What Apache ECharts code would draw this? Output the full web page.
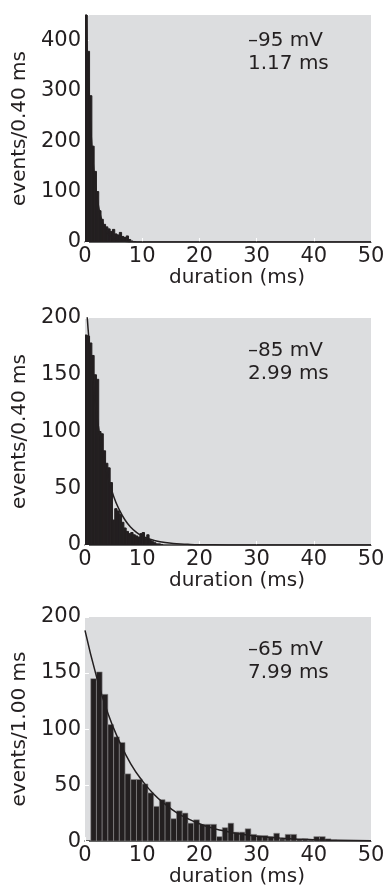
<!DOCTYPE html>
<html>
<head>
<meta charset="utf-8">
<script src="https://cdn.jsdelivr.net/npm/echarts@6/dist/echarts.min.js"></script>
<style>
  html, body { margin: 0; padding: 0; background: #fff; }
  #chart { width: 389px; height: 888px; }
</style>
</head>
<body>
<div id="chart"></div>
<script>
// -95 mV: counts per 0.40 ms bin, first bin starts at 0 ms
const counts95 = [450, 378, 290, 190, 140, 100, 62, 45, 35, 30, 26, 21, 25, 16, 14, 19, 11, 9, 12, 5, 2, 1];
// -85 mV: counts per 0.40 ms bin, first bin starts at 0 ms
const counts85 = [185, 184, 178, 167, 150, 146, 100, 98, 83, 72, 68, 55, 22, 32, 30, 27, 20, 15, 12, 10,
  11, 9, 8, 7, 10, 11, 6, 9, 4, 3, 2, 1, 1, 0.5];
// -65 mV: counts per 1.00 ms bin, first bin starts at 1 ms
const counts65 = [145, 151, 131, 104, 93, 88, 60, 55, 55, 51, 43, 31, 37, 35, 20, 27, 25, 16, 19, 15,
  15, 15, 4, 12, 16, 8, 8, 11, 6, 5, 5, 4, 7, 2, 6, 6, 1.5, 2, 1, 4, 4, 2, 1, 0.5];

// exponential fit curves
const fitX95 = [0, 0.25, 0.5, 0.75, 1, 1.5, 2, 2.5, 3, 3.5, 4, 5, 6, 7, 8, 10, 15, 20, 30, 40, 50];
const fitY95 = [530, 428, 346, 280, 226, 147, 96, 63, 41, 27, 17, 7.4, 3.1, 1.3, 0.6, 0.1, 0, 0, 0, 0, 0];
const fitX85 = [0, 0.5, 1, 1.5, 2, 3, 4, 5, 6, 7, 8, 9, 10, 11, 12, 14, 16, 18, 20, 25, 30, 40, 50];
const fitY85 = [228, 193, 163, 138, 117, 84, 60, 43, 31, 22, 15.7, 11.2, 8, 5.7, 4.1, 2.1, 1.1, 0.6, 0.3, 0.05, 0, 0, 0];
const fitX65 = [0, 2, 4, 6, 8, 10, 12, 14, 16, 18, 20, 22, 24, 26, 28, 30, 32, 34, 36, 38, 40, 44, 50];
const fitY65 = [188, 147, 114, 89, 69, 54, 42, 33, 25.5, 20, 15.5, 12, 9.4, 7.3, 5.7, 4.4, 3.4, 2.7, 2.1, 1.6, 1.3, 0.7, 0.4];

const xTicks = [0, 10, 20, 30, 40, 50];

const ink = '#231f20';
const font = 'DejaVu Sans';

const panels = [
  { top: 15, yName: 'events/0.40 ms', yMax: 450, yStep: 100, start: 0, width: 0.4,
    counts: counts95, fx: fitX95, fy: fitY95, text: '\u201395 mV\n1.17 ms', sep: false },
  { top: 318, yName: 'events/0.40 ms', yMax: 200, yStep: 50, start: 0, width: 0.4,
    counts: counts85, fx: fitX85, fy: fitY85, text: '\u201385 mV\n2.99 ms', sep: false },
  { top: 617, yName: 'events/1.00 ms', yMax: 200, yStep: 50, start: 1, width: 1,
    counts: counts65, fx: fitX65, fy: fitY65, text: '\u201365 mV\n7.99 ms', sep: true },
];

const grid = [], xAxis = [], yAxis = [], series = [], graphic = [];

panels.forEach((p, i) => {
  grid.push({
    left: 85, width: 286, top: p.top, height: 227,
    show: true, backgroundColor: '#dcdddf', borderWidth: 0,
  });
  xAxis.push({
    gridIndex: i, type: 'value', min: xTicks[0], max: xTicks[xTicks.length - 1], interval: 10,
    name: 'duration (ms)', nameLocation: 'middle', nameGap: 25,
    nameTextStyle: { color: ink, fontSize: 20, fontFamily: font, padding: [0, 0, 0, 18] },
    axisLine: { show: true, lineStyle: { color: '#333', width: 1.5 } },
    axisTick: { show: true, inside: true, length: 4, lineStyle: { color: '#fff', width: 1 } },
    axisLabel: { color: ink, fontSize: 21, fontFamily: font, margin: 4 },
    splitLine: { show: false },
  });
  yAxis.push({
    gridIndex: i, type: 'value', min: 0, max: p.yMax, interval: p.yStep,
    name: p.yName, nameLocation: 'middle', nameGap: 54,
    nameTextStyle: { color: ink, fontSize: 20, fontFamily: font },
    axisLine: { show: false },
    axisTick: { show: true, inside: true, length: 4, lineStyle: { color: '#fff', width: 1 } },
    axisLabel: {
      color: ink, fontSize: 21, fontFamily: font, margin: 4,
      formatter: (v) => (v % p.yStep === 0 && v <= p.yMax ? String(v) : ''),
    },
    splitLine: { show: false },
  });

  series.push({
    type: 'custom', xAxisIndex: i, yAxisIndex: i, clip: true,
    data: p.counts.map((c, k) => [p.start + k * p.width, p.start + (k + 1) * p.width, c]),
    renderItem: (params, api) => {
      const a = api.coord([api.value(0), api.value(2)]);
      const b = api.coord([api.value(1), 0]);
      return {
        type: 'rect',
        shape: { x: a[0], y: a[1], width: b[0] - a[0], height: b[1] - a[1] },
        style: p.sep
          ? { fill: ink, stroke: '#8e8d8f', lineWidth: 0.6 }
          : { fill: ink, stroke: ink, lineWidth: 1 },
      };
    },
    silent: true,
  });
  series.push({
    type: 'line', xAxisIndex: i, yAxisIndex: i, clip: true,
    data: p.fx.map((x, k) => [x, p.fy[k]]),
    showSymbol: false, smooth: true,
    lineStyle: { color: ink, width: 1.5 },
    silent: true, z: 3,
  });

  graphic.push({
    type: 'text', left: 248, top: p.top + (i === 0 ? 14 : 21),
    style: { text: p.text, font: '20px ' + font, fill: ink, lineHeight: 23 },
    z: 10,
  });
});

const chart = echarts.init(document.getElementById('chart'), null, { renderer: 'canvas' });
chart.setOption({
  animation: false,
  backgroundColor: '#fff',
  grid, xAxis, yAxis, series, graphic,
});
</script>
</body>
</html>
